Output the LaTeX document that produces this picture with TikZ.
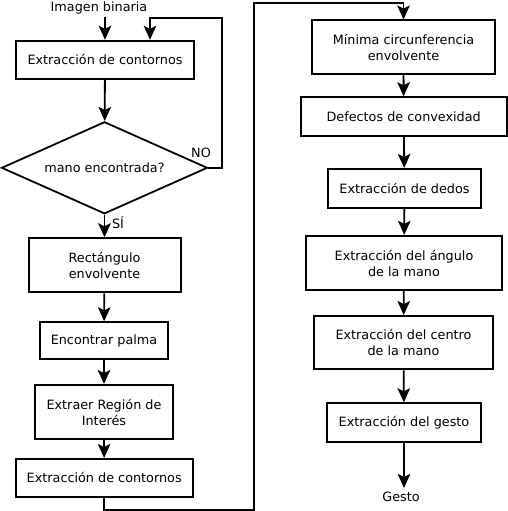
\documentclass[tikz,border=0pt]{standalone}
\usepackage{fontspec}
\setmainfont{DejaVu Sans}
\usetikzlibrary{shapes.geometric}
\usetikzlibrary{arrows.meta}
\tikzstyle{Box}=[rectangle,draw=black,line width=2pt,align=center,
inner sep=0pt]
\tikzstyle{Choice}=[diamond,draw=black,line width=1.8pt,inner sep=0pt,
minimum width=206pt,minimum height=92pt,aspect=2.2]
\tikzstyle{Edge}=[draw=black,line width=1.8pt,
-{Stealth[length=14pt,width=12.5pt,inset=3pt]}]
\tikzstyle{Label}=[inner sep=3pt]

\begin{document}
\begin{tikzpicture}[x=1pt,y=-1pt,font=\fontsize{12.8}{16}\selectfont]
        \useasboundingbox(0,0)rectangle(508,511);
        \node[Label](img)at(99,7.5){Imagen binaria};
        \node[Box,minimum width=178pt,minimum height=38pt](ext1)
            at(105,59.8){Extracción de contornos};
        \node[Choice](dec)at(104.5,167.8){mano encontrada?};
        \node[Box,minimum width=152pt,minimum height=54pt](rect)
            at(104.5,265.3){Rectángulo\\envolvente};
        \node[Box,minimum width=128pt,minimum height=37pt](palma)
            at(104,340.8){Encontrar palma};
        \node[Box,minimum width=138pt,minimum height=54pt](roi)
            at(104,412){Extraer Región de\\Interés};
        \node[Box,minimum width=177pt,minimum height=37.6pt](ext2)
            at(104.2,477.8){Extracción de contornos};
        \node[Box,minimum width=183pt,minimum height=53pt](circ)
            at(403.5,47){Mínima circunferencia\\envolvente};
        \node[Box,minimum width=206pt,minimum height=38.4pt](defect)
            at(403.7,116.5){Defectos de convexidad};
        \node[Box,minimum width=153pt,minimum height=38.7pt](dedos)
            at(404.5,188.3){Extracción de dedos};
        \node[Box,minimum width=196.6pt,minimum height=54.3pt](angulo)
            at(404,263){Extracción del ángulo\\de la mano};
        \node[Box,minimum width=178.7pt,minimum height=53.3pt](centro)
            at(403.5,342.7){Extracción del centro\\de la mano};
        \node[Box,minimum width=153.4pt,minimum height=38.4pt](gesto)
            at(404,422.5){Extracción del gesto};
        \node[Label,inner sep=4pt](out)at(401,497){Gesto};
        \node[Label](no)at(201,152.7){NO};
        \node[Label](si)at(118,223){SÍ};
        \coordinate(loop)at(221.7,17.7);
        \coordinate(c1)at(254.3,510);
        \coordinate(c2)at(254.3,3);
        \draw[Edge](img.south -| ext1.north)--(ext1.north);
        \draw[Edge](ext1)--(dec);
        \draw[Edge](dec.east)-|(loop)-|([xshift=45pt]ext1.north);
        \draw[Edge](dec)--(rect);
        \draw[Edge](rect)--(palma);
        \draw[Edge](palma)--(roi);
        \draw[Edge](roi)--(ext2);
        \draw[Edge](ext2)|-(c1)|-(c2)-|(circ);
        \draw[Edge](circ)--(defect);
        \draw[Edge](defect)--(dedos);
        \draw[Edge](dedos)--(angulo);
        \draw[Edge](angulo)--(centro);
        \draw[Edge](centro)--(gesto);
        \draw[Edge](gesto.south)--(gesto.south |- out.north);
    \end{tikzpicture}
\end{document}
